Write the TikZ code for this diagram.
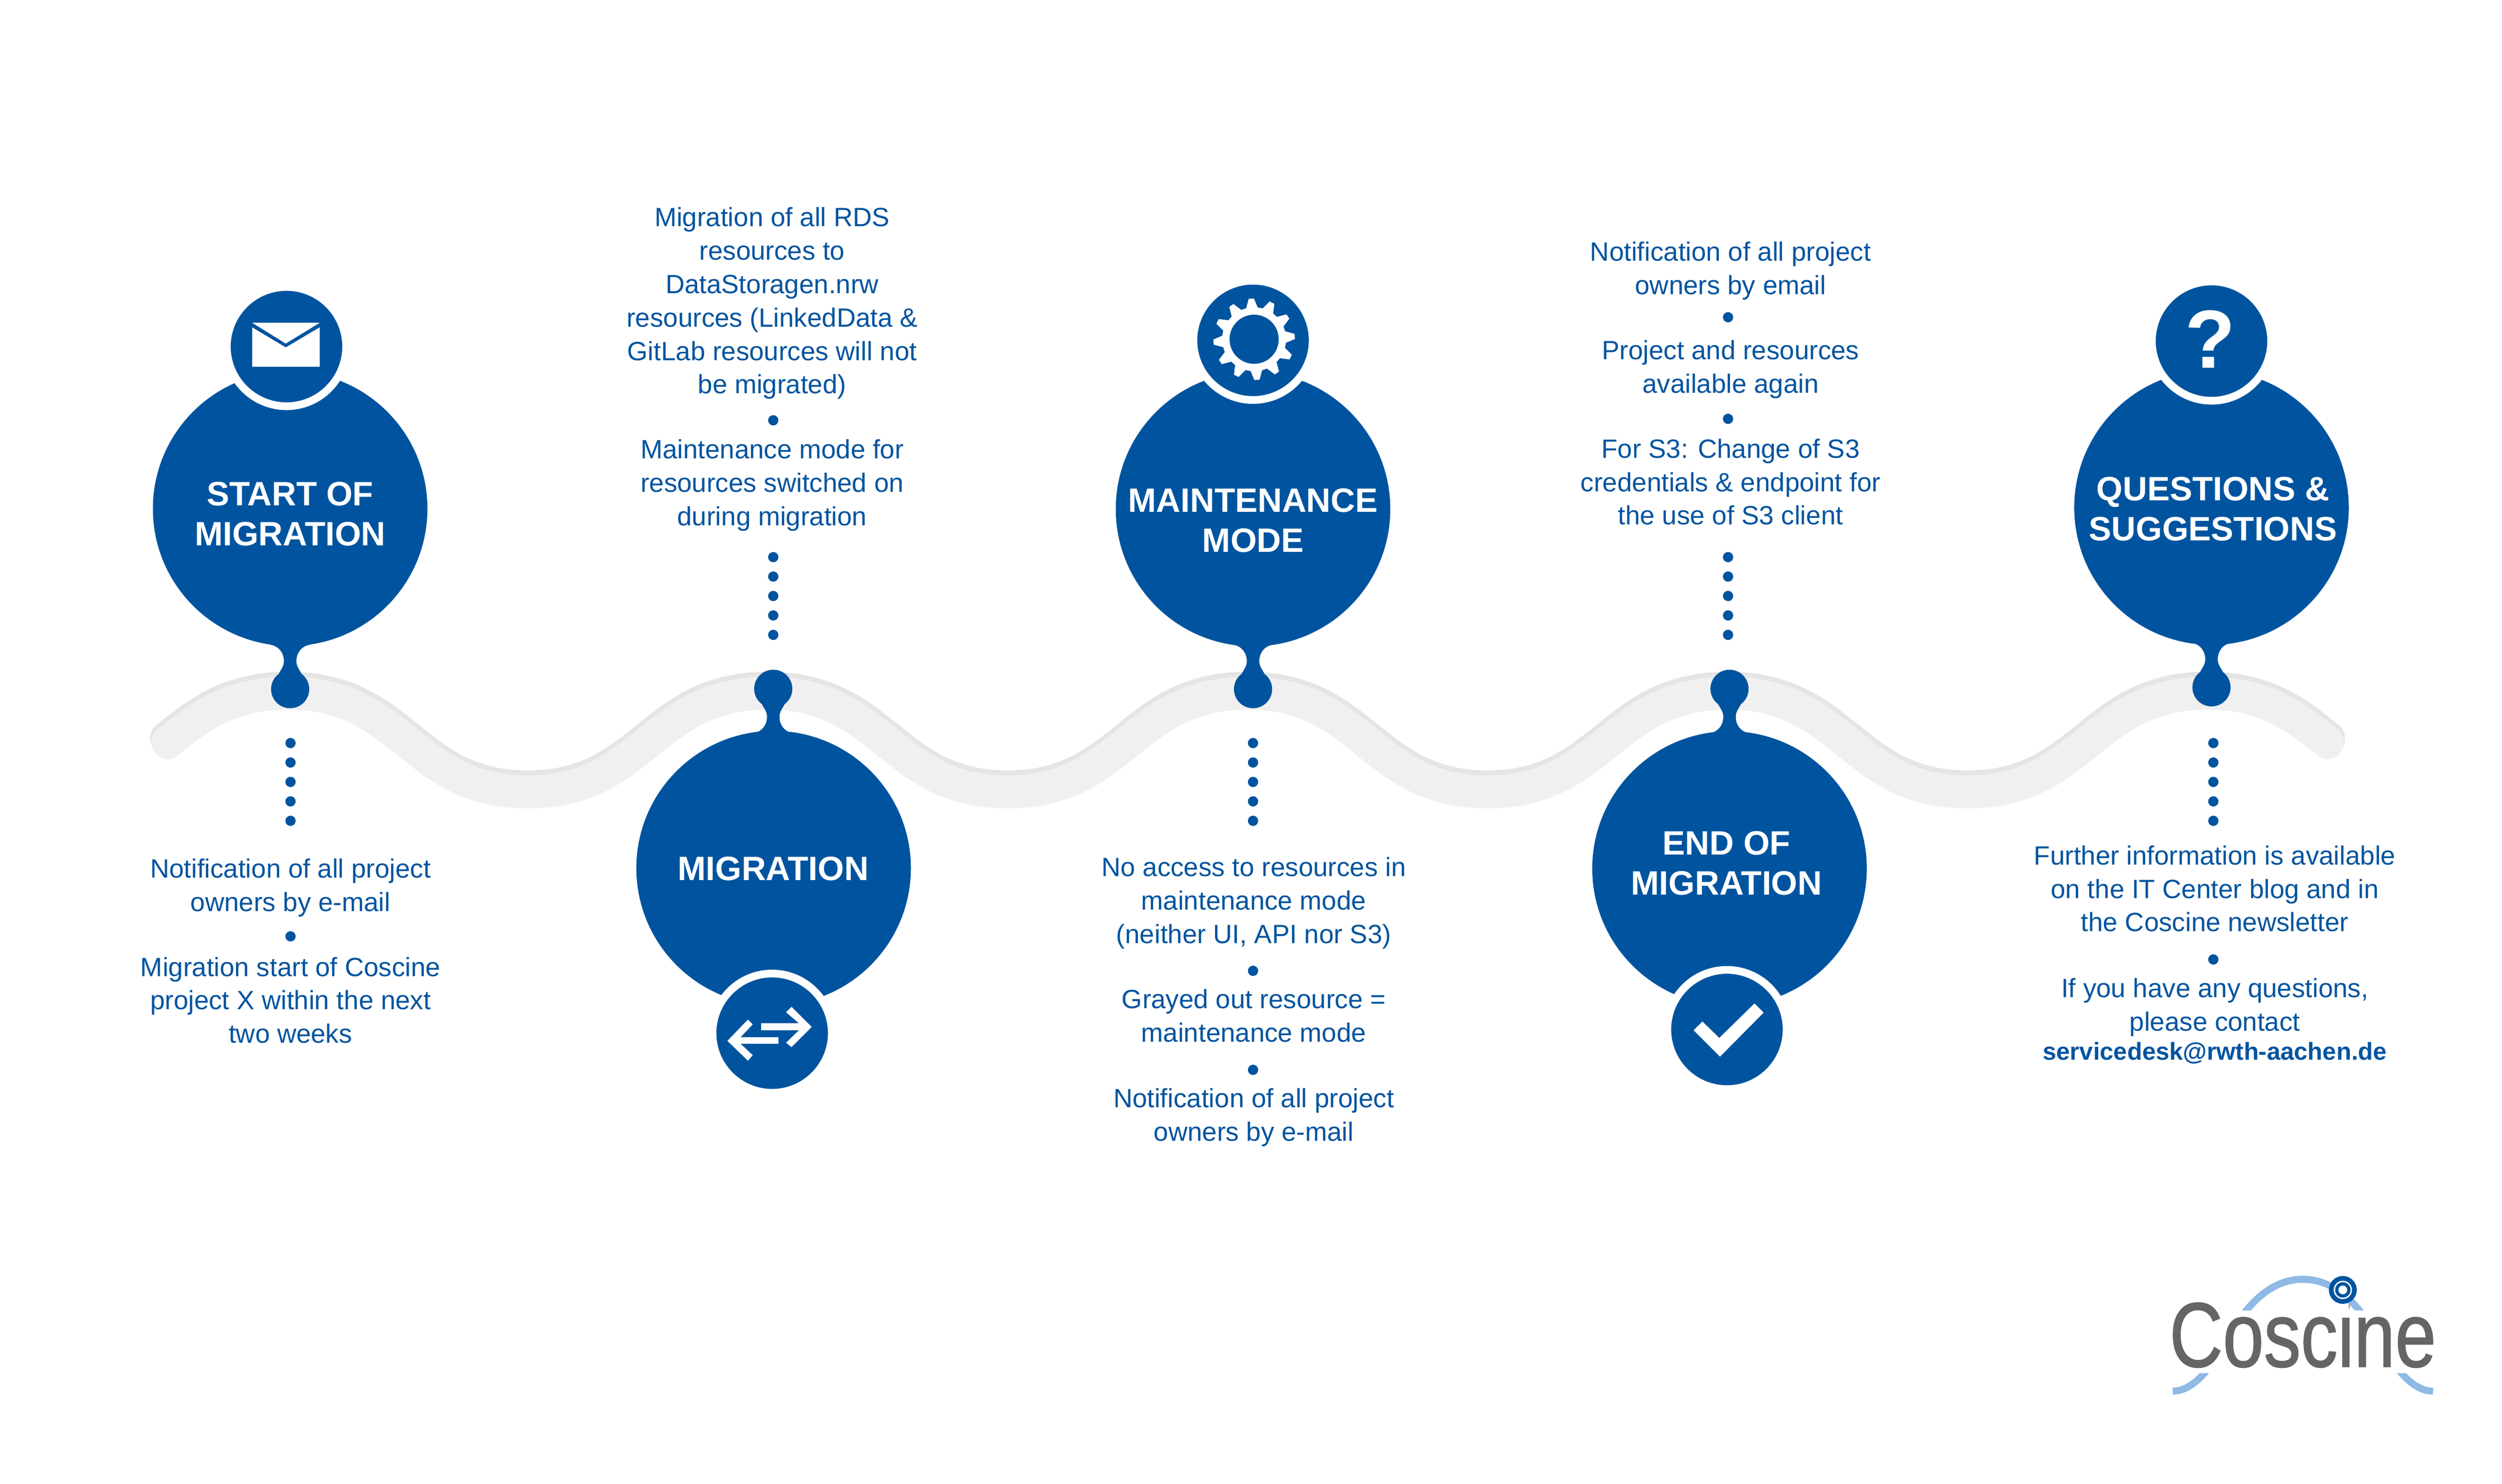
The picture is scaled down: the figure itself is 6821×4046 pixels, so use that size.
\documentclass[tikz,border=0pt]{standalone}
\usepackage{graphicx}
\usepackage{fontspec}
\setmainfont{Liberation Sans}
\newfontface\logofont[FakeBold=1.2]{Liberation Sans}
\definecolor{coscineblue}{HTML}{00549F}
\definecolor{coscinesky}{HTML}{8EBAE5}
\definecolor{coscinegray}{HTML}{646567}
\definecolor{roadlight}{HTML}{F0F0F0}
\definecolor{roaddark}{HTML}{E5E5E5}
\newcommand{\infofont}{\fontsize{20.5}{25.9}\selectfont}
\newcommand{\titlefont}{\fontsize{26.2}{31}\selectfont\bfseries}
\newcommand{\roadline}{(457.5,2017) .. controls (541,1950) and (625,1883) .. (785,1883)
  .. controls (1105,1883) and (1119,2152) .. (1439,2152)
  .. controls (1759,2152) and (1773,1883) .. (2093,1883)
  .. controls (2413,1883) and (2427,2152) .. (2747,2152)
  .. controls (3067,2152) and (3081,1883) .. (3401,1883)
  .. controls (3721,1883) and (3735,2152) .. (4055,2152)
  .. controls (4375,2152) and (4389,1883) .. (4710,1883)
  .. controls (5030,1883) and (5044,2152) .. (5364,2152)
  .. controls (5684,2152) and (5698,1883) .. (6018,1883)
  .. controls (6178,1883) and (6262,1950) .. (6345,2017)}
\newcommand{\pinneck}[2]{\fill[coscineblue,shift={(#1)},yscale=#2]
  (-54,-121) .. controls (-32,-118) and (-17,-100) .. (-17,-76)
  .. controls (-17,-62) and (-26,-52) .. (-31,-42) -- (31,-42)
  .. controls (26,-52) and (17,-62) .. (17,-76)
  .. controls (17,-100) and (32,-118) .. (54,-121) -- (0,-150) -- cycle;}
\tikzset{
  bigdisc/.style={circle,fill=coscineblue,inner sep=0pt,outer sep=0pt,minimum size=7.48cm},
  icondisc/.style={circle,fill=coscineblue,draw=white,line width=.21cm,inner sep=0pt,outer sep=0pt,minimum size=3.25cm},
  bulb/.style={circle,fill=coscineblue,inner sep=0pt,outer sep=0pt,minimum size=1.04cm},
  bead/.style={circle,fill=coscineblue,inner sep=0pt,outer sep=0pt,minimum size=.28cm},
  infotext/.style={text=coscineblue,align=center,inner sep=0pt,font=\infofont},
  titletext/.style={text=white,align=center,inner sep=0pt,font=\titlefont}
}
\begin{document}
\begin{tikzpicture}[x=.01cm,y=-.01cm]
  \useasboundingbox (0,0) rectangle (6821,4046);

  \draw[roaddark,line width=.96cm,line cap=round,yshift=.035cm] \roadline;
  \draw[roadlight,line width=.90cm,line cap=round,yshift=-.07cm] \roadline;

  \begin{scope}[every node/.style=bead]
    \foreach \n/\y in {1/2026,2/2079,3/2132,4/2185,5/2238} {
      \node (a\n) at (792,\y) {};
      \node (c\n) at (3416,\y) {};
      \node (e\n) at (6034,\y) {};
    }
    \foreach \n/\y in {1/1731,2/1678,3/1625,4/1572,5/1519} {
      \node (b\n) at (2108,\y) {};
      \node (d\n) at (4711,\y) {};
    }
    \node (asep)  at (792,2553)  {};
    \node (bsep)  at (2108,1146) {};
    \node (csep1) at (3416,2647) {};
    \node (csep2) at (3416,2917) {};
    \node (dsep1) at (4711,865)  {};
    \node (dsep2) at (4711,1142) {};
    \node (esep)  at (6034,2616) {};
  \end{scope}

  \begin{scope}[every node/.style=bulb]
    \node (startpin)   at (791,1879)  {};
    \node (migpin)     at (2108,1878) {};
    \node (maintpin)   at (3416,1879) {};
    \node (endpin)     at (4715,1878) {};
    \node (questpin)   at (6029,1874) {};
  \end{scope}

  \pinneck{startpin}{1}
  \pinneck{migpin}{-1}
  \pinneck{maintpin}{1}
  \pinneck{endpin}{-1}
  \pinneck{questpin}{1}

  \begin{scope}[every node/.style=bigdisc]
    \node (start) at (791,1387)  {};
    \node (mig)   at (2109,2367) {};
    \node (maint) at (3416,1388) {};
    \node (end)   at (4715,2368) {};
    \node (quest) at (6029,1384) {};
  \end{scope}

  \begin{scope}[every node/.style=icondisc]
    \node (starticon) at (781,945)  {};
    \node (migicon)   at (2105,2817) {};
    \node (mainticon) at (3416,928) {};
    \node (endicon)   at (4708,2807) {};
    \node (questicon) at (6029,930) {};
  \end{scope}

  \fill[white] (687,880) rectangle (872,1000);
  \fill[coscineblue] (687,880) -- (779,937) -- (872,880) -- (872,892) -- (779,947) -- (687,892) -- cycle;

  \fill[white] (2075,2790) -- (2178,2790) -- (2143,2760) -- (2158,2745) -- (2213,2800)
    -- (2158,2855) -- (2143,2843) -- (2178,2809) -- (2075,2809) -- cycle;
  \fill[white] (2122,2828) -- (2019,2828) -- (2052,2793) -- (2039,2780) -- (1983,2838)
    -- (2039,2892) -- (2052,2877) -- (2019,2846) -- (2122,2846) -- cycle;

  \foreach \a in {0,30,...,330}
    \fill[white,shift={(3419,925)},rotate=\a+4] (-16,-85) -- (-7,-111) -- (7,-111) -- (16,-85) -- cycle;
  \fill[white] (3419,925) circle [radius=87];
  \fill[coscineblue] (3419,925) circle [radius=67];

  \fill[white] (4641,2785) -- (4687,2830) -- (4783,2736) -- (4808,2761) -- (4689,2881) -- (4617,2809) -- cycle;

  \node[text=white,inner sep=0pt,font=\fontsize{64}{66}\selectfont\bfseries] (questmark) at (6026,925) {?};

  \begin{scope}[every node/.style=titletext]
    \node (starttitle) at (791,1401)  {START OF\\MIGRATION};
    \node (migtitle)   at (2108,2368) {MIGRATION};
    \node (mainttitle) at (3416,1419) {MAINTENANCE\\MODE};
    \node (endtitle)   at (4707,2354) {END OF\\MIGRATION};
    \node (questtitle) at (6033,1388) {QUESTIONS \&\\SUGGESTIONS};
  \end{scope}

  \begin{scope}[every node/.style=infotext]
    \node (a1text) at (792,2421) {Notification of all project\\owners by e-mail};
    \node (a2text) at (792,2727) {Migration start of Coscine\\project X within the next\\two weeks};
    \node (b1text) at (2105,827) {Migration of all RDS\\resources to\\DataStoragen.nrw\\resources (LinkedData \&\\GitLab resources will not\\be migrated)};
    \node (b2text) at (2105,1323) {Maintenance mode for\\resources switched on\\during migration};
    \node (c1text) at (3418,2462) {No access to resources in\\maintenance mode\\(neither UI, API nor S3)};
    \node (c2text) at (3418,2769) {Grayed out resource =\\maintenance mode};
    \node (c3text) at (3418,3047) {Notification of all project\\owners by e-mail};
    \node (d1text) at (4718,738) {Notification of all project\\owners by email};
    \node (d2text) at (4718,1007) {Project and resources\\available again};
    \node (d3text) at (4718,1314) {For S3: Change of S3\\credentials \& endpoint for\\the use of S3 client};
    \node (e1text) at (6038,2423) {Further information is available\\on the IT Center blog and in\\the Coscine newsletter};
    \node (e2text) at (6038,2747) {If you have any questions,\\please contact};
    \node[font=\fontsize{19}{23}\selectfont\bfseries] (e3text) at (6038,2871) {servicedesk@rwth-aachen.de};
  \end{scope}

  \node[text=coscinegray,inner sep=0pt,font=\fontsize{71}{71}\logofont] (logotext) at (6278,3637) {\scalebox{.806}[1]{Coscine}};
  \fill[white] (6370,3535) rectangle (6404,3586);
  \begin{scope}
    \clip (5900,3450) rectangle (6700,3573) (5900,3744) rectangle (6700,3830);
    \draw[coscinesky,line width=.19cm] (5923,3793) .. controls (5990,3793) and (6040,3705) .. (6066,3660)
      .. controls (6105,3592) and (6170,3488) .. (6278,3488)
      .. controls (6386,3488) and (6451,3592) .. (6490,3660)
      .. controls (6516,3705) and (6566,3793) .. (6633,3793);
  \end{scope}
  \fill[coscineblue] (6387,3517) circle [radius=38];
  \fill[white] (6387,3517) circle [radius=25];
  \fill[coscineblue] (6387,3517) circle [radius=21];
  \fill[white] (6387,3517) circle [radius=12];
\end{tikzpicture}
\end{document}
